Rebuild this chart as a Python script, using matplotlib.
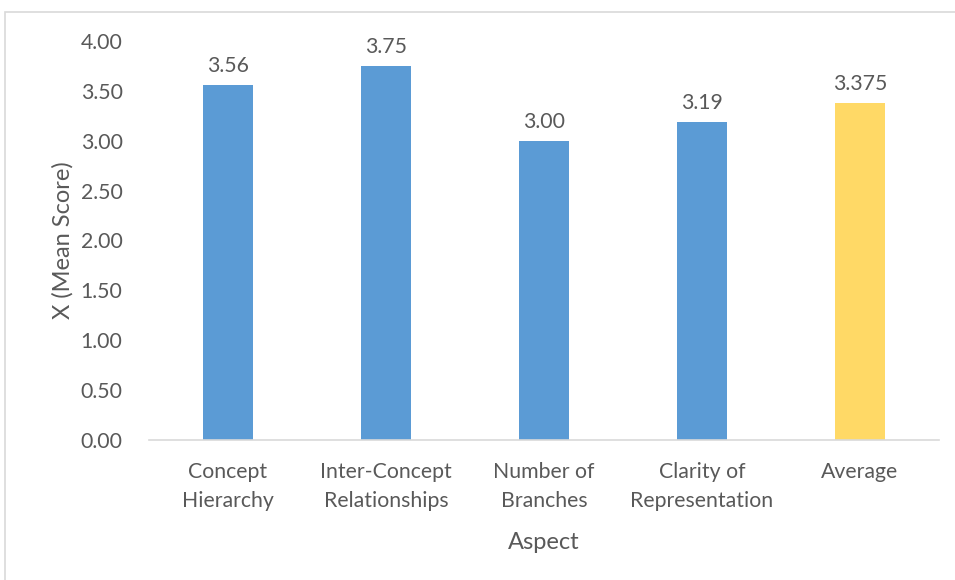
import matplotlib
matplotlib.use("Agg")
import matplotlib.pyplot as plt
from matplotlib.patches import Rectangle

categories = ["Concept\nHierarchy", "Inter-Concept\nRelationships", "Number of\nBranches",
              "Clarity of\nRepresentation", "Average"]
values = [3.56, 3.75, 3.00, 3.19, 3.375]
labels = ["3.56", "3.75", "3.00", "3.19", "3.375"]
colors = ["#5B9BD5", "#5B9BD5", "#5B9BD5", "#5B9BD5", "#FFD966"]
yticks = [0, 0.5, 1, 1.5, 2, 2.5, 3, 3.5, 4]

plt.rcParams['font.family'] = ['Lato', 'DejaVu Sans']
txt = "#595959"
fs = 15.3

fig = plt.figure(figsize=(9.55, 5.8), dpi=100)
ax = fig.add_axes([149/955, 1-440/580, 790/955, 399/580])

x = list(range(len(categories)))
ax.bar(x, values, width=0.316, color=colors, zorder=2)
for xi, v, l in zip(x, values, labels):
    ax.text(xi, v + 0.09, l, ha='center', va='bottom', fontsize=fs, color=txt)

ax.set_xlim(-0.5, len(categories) - 0.5)
ax.set_ylim(0, 4)
ax.set_yticks(yticks)
ax.set_yticklabels([f"{t:.2f}" for t in yticks], fontsize=fs, color=txt)
ax.set_xticks(x)
ax.set_xticklabels(categories, fontsize=fs, color=txt, linespacing=1.55)
ax.tick_params(axis='both', length=0)
ax.tick_params(axis='x', pad=16)
ax.tick_params(axis='y', pad=19)
for s in ['top', 'right', 'left']:
    ax.spines[s].set_visible(False)
ax.spines['bottom'].set_color('#D9D9D9')
ax.spines['bottom'].set_linewidth(1.2)

ax.set_xlabel("Aspect", fontsize=17, color=txt, labelpad=15)
ax.set_ylabel("X (Mean Score)", fontsize=17, color=txt, labelpad=5)

fig.patches.append(Rectangle((5/955, -0.1), 1.0, 1 - 12/580 + 0.1, transform=fig.transFigure,
                             fill=False, edgecolor='#D9D9D9', linewidth=1.2))

fig.savefig("out.png", dpi=100)
